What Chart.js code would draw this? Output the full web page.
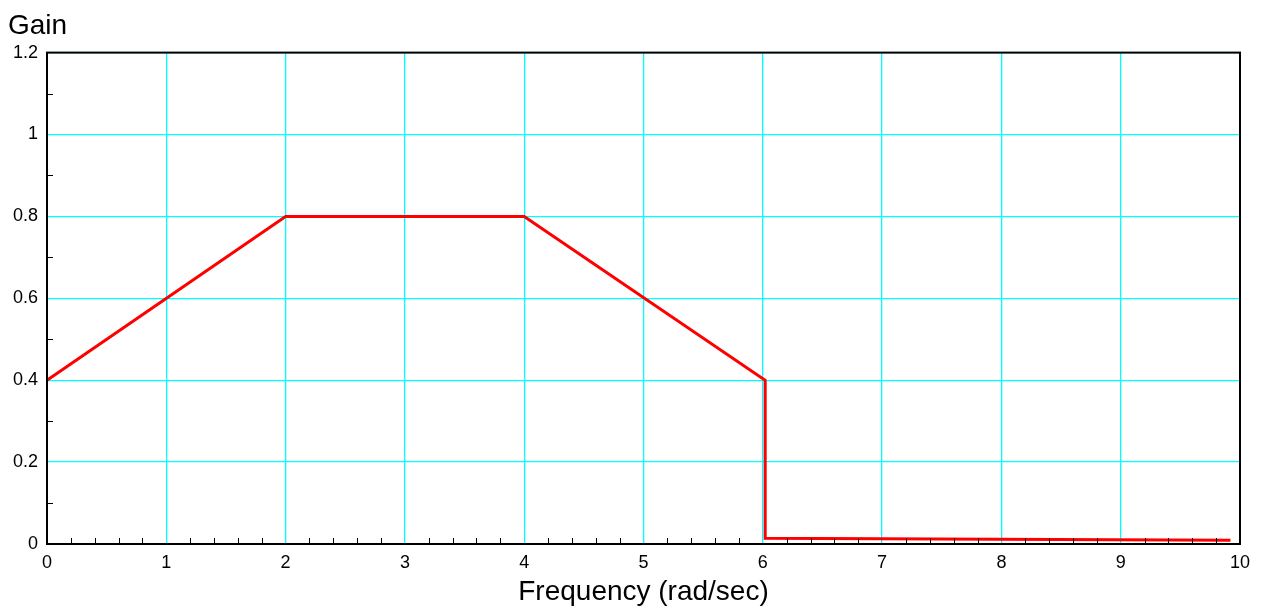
<!DOCTYPE html>
<html>
<head>
<meta charset="utf-8">
<script src="https://cdn.jsdelivr.net/npm/chart.js@4.4.1/dist/chart.umd.min.js"></script>
<style>
  html, body { margin: 0; padding: 0; background: #fff; }
  #wrap { width: 1262px; height: 609px; position: relative; }
</style>
</head>
<body>
<div id="wrap"><canvas id="c"></canvas></div>
<script>
// ---- data ----
const frequency = [0, 2, 4, 6.02, 6.02, 9.92];
const gain      = [0.4, 0.8, 0.8, 0.4, 0.014, 0.009];
const xMajorStep = 1;
const yMajorStep = 0.2;
const xMinorStep = 0.2;
const yMinorStep = 0.1;
const yTitle = 'Gain';
const xTitle = 'Frequency (rad/sec)';

const points = frequency.map((f, i) => ({ x: f, y: gain[i] }));
const FONT = "'Liberation Sans', Arial, Helvetica, sans-serif";

function isMultiple(v, step) {
  const r = v / step;
  return Math.abs(r - Math.round(r)) < 1e-6;
}

const framePlugin = {
  id: 'frameMinor',
  afterDatasetsDraw(chart) {
    const { ctx, chartArea: a, scales } = chart;
    ctx.save();
    ctx.strokeStyle = '#000';
    ctx.lineWidth = 1;
    const xs = scales.x, ys = scales.y;
    ctx.beginPath();
    const nx = Math.round((xs.max - xs.min) / xMinorStep);
    for (let i = 1; i < nx; i++) {
      const v = xs.min + i * xMinorStep;
      if (isMultiple(v, xMajorStep)) continue;
      const px = Math.round(xs.getPixelForValue(v)) + 0.5;
      ctx.moveTo(px, a.bottom);
      ctx.lineTo(px, a.bottom - 6);
    }
    const ny = Math.round((ys.max - ys.min) / yMinorStep);
    for (let i = 1; i < ny; i++) {
      const v = ys.min + i * yMinorStep;
      if (isMultiple(v, yMajorStep)) continue;
      const py = Math.round(ys.getPixelForValue(v)) + 0.5;
      ctx.moveTo(a.left, py);
      ctx.lineTo(a.left + 6, py);
    }
    ctx.stroke();
    ctx.lineWidth = 2;
    ctx.strokeRect(a.left, a.top, a.right - a.left, a.bottom - a.top);
    ctx.restore();
  }
};

new Chart(document.getElementById('c'), {
  type: 'scatter',
  data: {
    datasets: [{
      data: points,
      showLine: true,
      borderColor: '#ff0000',
      backgroundColor: '#ff0000',
      borderWidth: 3,
      pointRadius: 0,
      tension: 0,
      clip: false
    }]
  },
  options: {
    responsive: true,
    maintainAspectRatio: false,
    animation: false,
    devicePixelRatio: 1,
    layout: { padding: { left: 8, right: 22, top: 0, bottom: 0 } },
    plugins: {
      legend: { display: false },
      tooltip: { enabled: false },
      title: {
        display: true,
        text: yTitle,
        align: 'start',
        color: '#000',
        font: { family: FONT, size: 28, weight: 'normal' },
        padding: { top: 9, bottom: 10 }
      }
    },
    scales: {
      x: {
        type: 'linear',
        min: 0, max: 10,
        ticks: {
          stepSize: xMajorStep,
          color: '#000', font: { family: FONT, size: 18 }, padding: 8, maxRotation: 0,
          callback: v => String(+v.toFixed(1))
        },
        grid: { color: '#00ffff', lineWidth: 1.3, drawTicks: false },
        border: { display: true, color: '#000', width: 2 },
        title: {
          display: true, text: xTitle, color: '#000',
          font: { family: FONT, size: 28 }, padding: { top: 3, bottom: 0 }
        },
        afterFit(s) { s.height = 65; }
      },
      y: {
        type: 'linear',
        min: 0, max: 1.2,
        ticks: {
          stepSize: yMajorStep,
          color: '#000', font: { family: FONT, size: 18 }, padding: 9,
          callback: v => String(+v.toFixed(1))
        },
        grid: { color: '#00ffff', lineWidth: 1.3, drawTicks: false },
        border: { display: true, color: '#000', width: 2 },
        afterFit(s) { s.width = 39; }
      }
    }
  },
  plugins: [framePlugin]
});
</script>
</body>
</html>
